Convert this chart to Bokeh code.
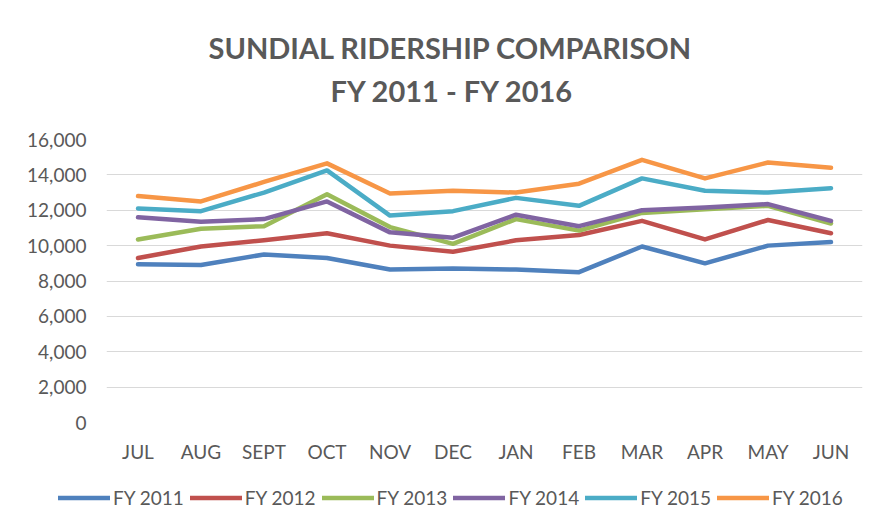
from bokeh.plotting import figure
from bokeh.models import (FactorRange, Range1d, Legend, LegendItem, Title,
                          FixedTicker, NumeralTickFormatter)
from bokeh.layouts import column
from bokeh.embed import file_html
from bokeh.resources import INLINE

months = ["JUL", "AUG", "SEPT", "OCT", "NOV", "DEC", "JAN", "FEB", "MAR", "APR", "MAY", "JUN"]

fy2011 = [8950, 8900, 9500, 9300, 8650, 8700, 8650, 8500, 9950, 9000, 10000, 10200]
fy2012 = [9300, 9950, 10300, 10700, 10000, 9650, 10300, 10600, 11400, 10350, 11450, 10700]
fy2013 = [10350, 10950, 11100, 12900, 11050, 10100, 11500, 10850, 11850, 12050, 12250, 11250]
fy2014 = [11600, 11350, 11500, 12500, 10750, 10450, 11750, 11100, 12000, 12150, 12350, 11400]
fy2015 = [12100, 11950, 13000, 14250, 11700, 11950, 12700, 12250, 13800, 13100, 13000, 13250]
fy2016 = [12800, 12500, 13600, 14650, 12950, 13100, 13000, 13500, 14850, 13800, 14700, 14400]

series_names = ["FY 2011", "FY 2012", "FY 2013", "FY 2014", "FY 2015", "FY 2016"]
series_values = [fy2011, fy2012, fy2013, fy2014, fy2015, fy2016]
series_colors = ["#4F81BD", "#C0504D", "#9BBB59", "#8064A2", "#4BACC6", "#F79646"]

y_ticks = [0, 2000, 4000, 6000, 8000, 10000, 12000, 14000, 16000]

title_line1 = "SUNDIAL RIDERSHIP COMPARISON"
title_line2 = "FY 2011 - FY 2016"

FONT = "Lato"
GRAY = "#595959"
LW = 4.5

p = figure(width=870, height=475, x_range=FactorRange(*months), y_range=Range1d(0, 16000),
           output_backend="svg", toolbar_location=None, title=None,
           min_border_left=106, min_border_right=8, min_border_top=139, min_border_bottom=53)
p.frame_align = False
p.outline_line_color = None
p.background_fill_color = "white"
p.border_fill_color = "white"

p.xgrid.grid_line_color = None
p.ygrid.grid_line_color = "#d9d9d9"
p.ygrid.grid_line_width = 1

p.yaxis.ticker = FixedTicker(ticks=y_ticks)
p.yaxis.formatter = NumeralTickFormatter(format="0,0")
for ax in (p.xaxis, p.yaxis):
    ax.axis_line_color = None
    ax.major_tick_line_color = None
    ax.minor_tick_line_color = None
    ax.major_label_text_font = FONT
    ax.major_label_text_font_size = "19px"
    ax.major_label_text_color = GRAY
p.yaxis.major_label_standoff = 14
p.xaxis.major_label_standoff = 11

for name, vals, col in zip(series_names, series_values, series_colors):
    p.line(months, vals, line_color=col, line_width=LW, line_join="round", line_cap="round")

t2 = Title(text=title_line2, align="left", offset=224, standoff=63,
           text_font=FONT, text_font_style="bold", text_font_size="29px", text_color=GRAY)
t1 = Title(text=title_line1, align="left", offset=102, standoff=-50,
           text_font=FONT, text_font_style="bold", text_font_size="29px", text_color=GRAY)
p.add_layout(t2, "above")
p.add_layout(t1, "above")

# legend strip below the chart (its own lines sit outside its visible range)
lg = figure(width=870, height=44, x_range=Range1d(0, 1), y_range=Range1d(0, 1),
            x_axis_type=None, y_axis_type=None, output_backend="svg", toolbar_location=None,
            min_border=0)
lg.frame_align = False
lg.outline_line_color = None
lg.xgrid.grid_line_color = None
lg.ygrid.grid_line_color = None
items = []
for name, vals, col in zip(series_names, series_values, series_colors):
    r = lg.line(list(range(len(months))), vals, line_color=col, line_width=LW, line_cap="round")
    items.append(LegendItem(label=name, renderers=[r]))
legend = Legend(items=items, orientation="horizontal", location=(58, 10),
                glyph_width=52, glyph_height=19, label_standoff=3, spacing=6,
                padding=0, margin=0, border_line_color=None, background_fill_alpha=0,
                label_text_font=FONT, label_text_font_size="19px", label_text_color=GRAY)
lg.add_layout(legend)

page = column(p, lg, spacing=0)
open("out.html", "w").write(file_html(page, INLINE))
